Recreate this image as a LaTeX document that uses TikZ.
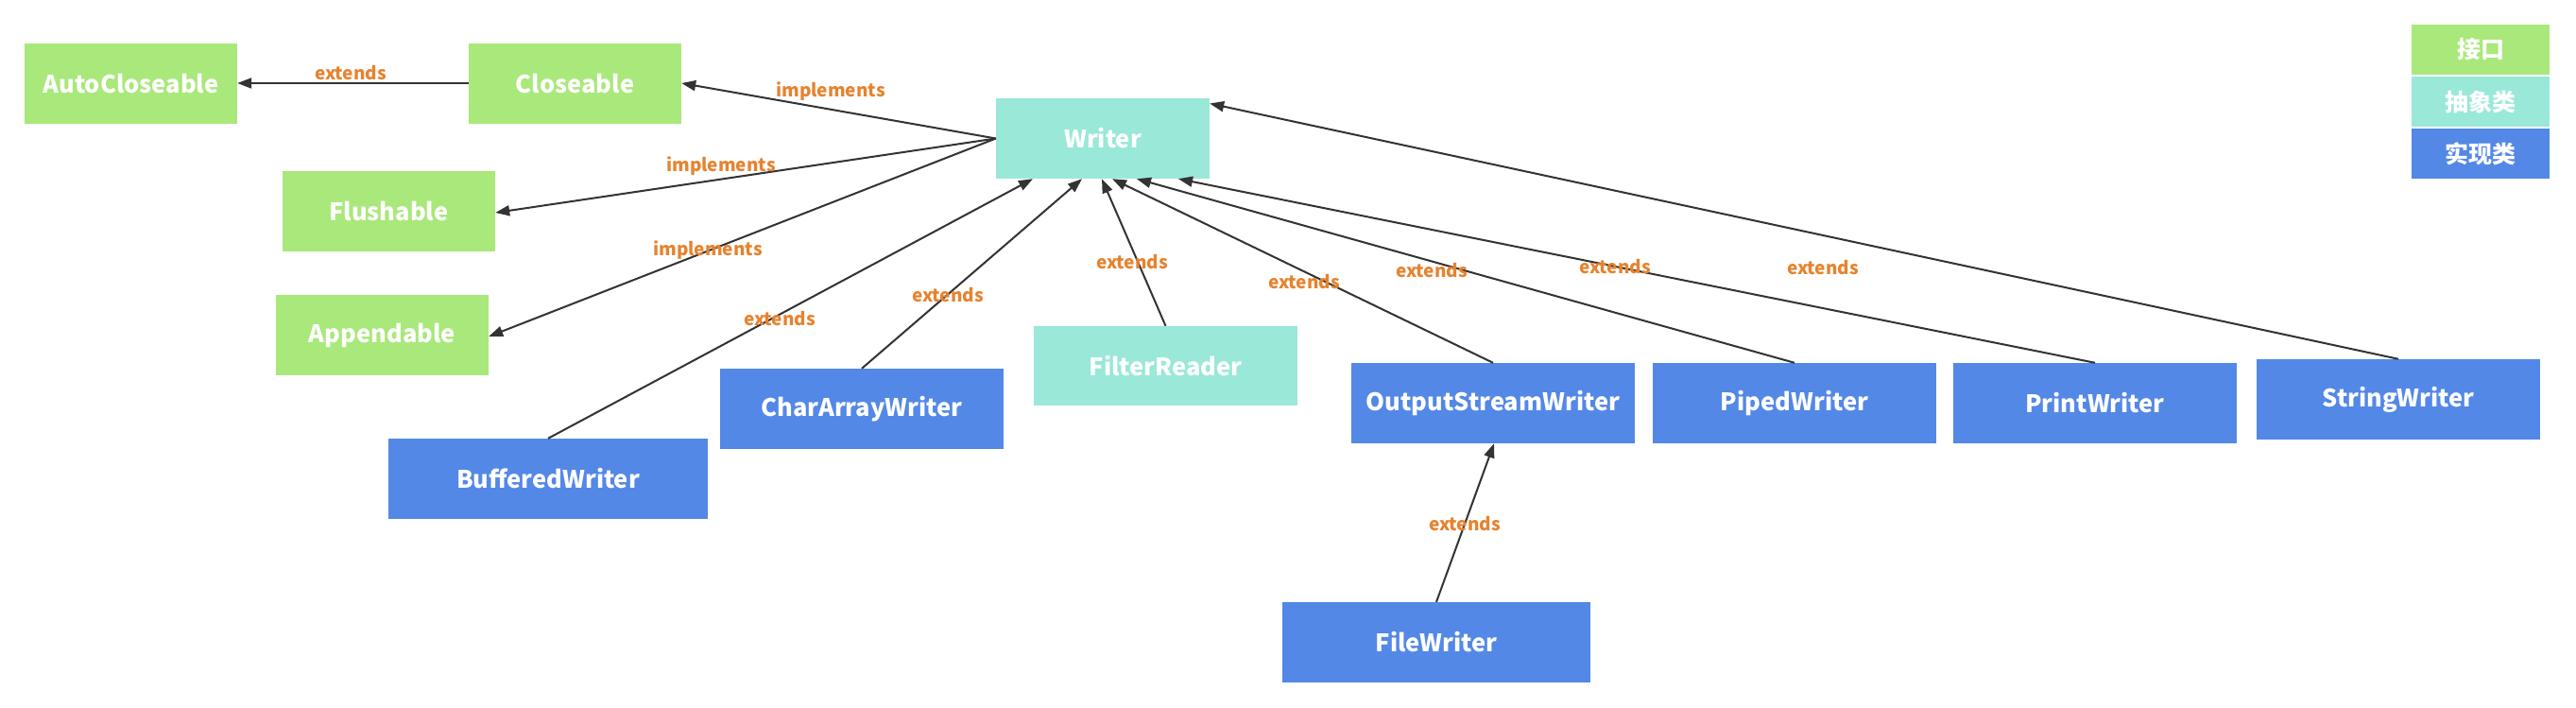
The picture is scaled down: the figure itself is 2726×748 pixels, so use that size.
\documentclass[tikz,border=0pt]{standalone}
\usepackage{fontspec}
\setmainfont{Noto Sans CJK SC}
\usetikzlibrary{arrows.meta}
\definecolor{ifgreen}{HTML}{A9E87A}
\definecolor{abteal}{HTML}{99E8D8}
\definecolor{imblue}{HTML}{5388E6}
\definecolor{lblorange}{HTML}{E6832F}
\definecolor{linegray}{HTML}{333333}
\tikzset{
  box/.style={draw=none, inner sep=0pt, minimum height=85pt, text=white,
    font=\fontsize{25.5}{30}\selectfont\bfseries},
  iface/.style={box, fill=ifgreen},
  abstr/.style={box, fill=abteal},
  impl/.style={box, fill=imblue},
  legendbox/.style={box, minimum width=146pt, minimum height=53pt,
    font=\fontsize{25}{30}\selectfont\bfseries},
  lbl/.style={text=lblorange, inner sep=0pt, font=\fontsize{19}{23}\selectfont\bfseries},
  rel/.style={draw=linegray, line width=2pt, -{Triangle[length=15pt,width=11pt]}},
}
\begin{document}
\begin{tikzpicture}[x=1pt,y=-1pt]
\useasboundingbox (0,0) rectangle (2726,748);
% nodes
\node[iface, minimum width=225pt] (auto) at (138.5,88.5) {AutoCloseable};
\node[iface, minimum width=225pt] (close) at (608.5,88.5) {Closeable};
\node[abstr, minimum width=226pt] (writer) at (1167,146.5) {Writer};
\node[iface, minimum width=225pt] (flush) at (411.5,223.5) {Flushable};
\node[iface, minimum width=225pt] (append) at (404.5,354.5) {Appendable};
\node[impl, minimum width=338pt] (buffered) at (580,506.5) {BufferedWriter};
\node[impl, minimum width=300pt] (chararray) at (912,432.5) {CharArrayWriter};
\node[abstr, minimum width=279pt, minimum height=84pt] (filter) at (1233.5,387) {FilterReader};
\node[impl, minimum width=300pt] (osw) at (1580,426.5) {OutputStreamWriter};
\node[impl, minimum width=300pt] (piped) at (1899,426.5) {PipedWriter};
\node[impl, minimum width=300pt] (print) at (2217,426.5) {PrintWriter};
\node[impl, minimum width=300pt] (string) at (2538,422.5) {StringWriter};
\node[impl, minimum width=326pt] (file) at (1520,679.5) {FileWriter};
% legend
\node[legendbox, fill=ifgreen] (lgi) at (2625,52.5) {接口};
\node[legendbox, fill=abteal] (lga) at (2625,107.5) {抽象类};
\node[legendbox, fill=imblue] (lgm) at (2625,162.5) {实现类};
% connectors
\draw[rel] ([yshift=0.5pt]close.west) -- ([yshift=0.5pt]auto.east);
\draw[rel] (writer.west) -- ([yshift=0.5pt]close.east);
\draw[rel] (writer.west) -- ([yshift=-1.5pt]flush.east);
\draw[rel] (writer.west) -- ([yshift=-1.5pt]append.east);
\draw[rel] (buffered.north) -- ([xshift=-74pt]writer.south);
\draw[rel] (chararray.north) -- ([xshift=-22pt]writer.south);
\draw[rel] (filter.north) -- ([xshift=-1pt]writer.south);
\draw[rel] (osw.north) -- ([xshift=10pt]writer.south);
\draw[rel] (piped.north) -- ([xshift=36pt]writer.south);
\draw[rel] (print.north) -- ([xshift=80pt]writer.south);
\draw[rel] (string.north) -- ([yshift=37pt]writer.east);
\draw[rel] (file.north) -- ([xshift=1pt]osw.south);
% labels
\node[lbl] (l1) at (371,77) {extends};
\node[lbl] (l2) at (879,97) {implements};
\node[lbl] (l3) at (763,176) {implements};
\node[lbl] (l4) at (749,265) {implements};
\node[lbl] (l5) at (825,337) {extends};
\node[lbl] (l6) at (1003,312) {extends};
\node[lbl] (l7) at (1198,277) {extends};
\node[lbl] (l8) at (1380,298) {extends};
\node[lbl] (l9) at (1515,286) {extends};
\node[lbl] (l10) at (1709,282) {extends};
\node[lbl] (l11) at (1929,283) {extends};
\node[lbl] (l12) at (1550,554) {extends};
\end{tikzpicture}
\end{document}
